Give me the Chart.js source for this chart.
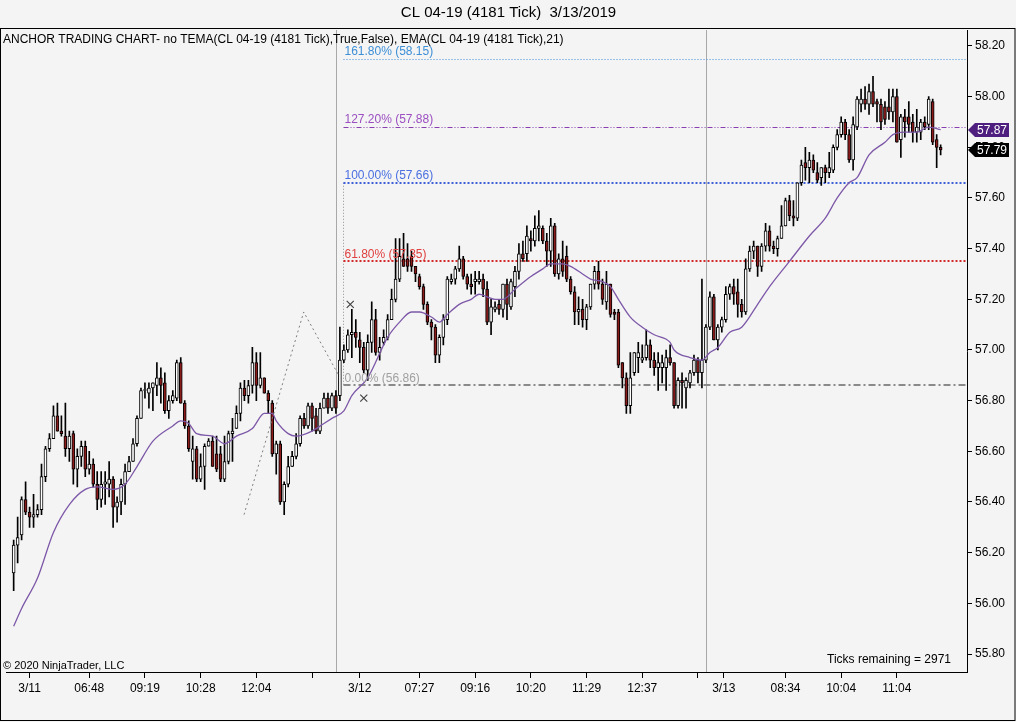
<!DOCTYPE html>
<html>
<head>
<meta charset="utf-8">
<script src="https://cdn.jsdelivr.net/npm/chart.js@4.4.1/dist/chart.umd.min.js"></script>
<style>
  html, body { margin: 0; padding: 0; background: #f4f4f4; }
  canvas { display: block; }
</style>
</head>
<body>
<canvas id="chart" width="1016" height="722"></canvas>
<script>
// candle data, one entry per 4181-tick bar (3/11 .. 3/13)
const opens = [
  56.12,56.23,56.27,56.41,56.36,56.34,56.35,56.37,56.50,56.61,56.65,56.74,56.68,56.66,56.61,56.67,56.53,56.58,56.62,56.53,
  56.55,56.47,56.41,56.47,56.47,56.49,56.38,56.40,56.47,56.52,56.56,56.63,56.73,56.84,56.83,56.85,56.86,56.89,56.87,56.76,
  56.80,56.81,56.95,56.79,56.70,56.56,56.61,56.49,56.54,56.62,56.64,56.59,56.59,56.49,56.56,56.67,56.69,56.75,56.85,56.82,
  56.86,56.95,56.86,56.89,56.83,56.79,56.59,56.63,56.40,56.47,56.54,56.58,56.63,56.73,56.70,56.78,56.74,56.68,56.77,56.81,
  56.77,56.82,56.82,56.96,57.00,57.06,57.07,57.04,57.01,56.92,57.03,57.12,56.99,57.03,57.05,57.12,57.20,57.28,57.36,57.36,
  57.37,57.33,57.29,57.25,57.18,57.11,57.09,56.98,57.05,57.12,57.27,57.28,57.32,57.36,57.29,57.26,57.27,57.27,57.28,57.24,
  57.11,57.16,57.18,57.16,57.26,57.17,57.25,57.31,57.38,57.38,57.44,57.43,57.48,57.48,57.43,57.39,57.49,57.30,57.36,57.37,
  57.28,57.23,57.15,57.16,57.12,57.17,57.26,57.31,57.26,57.19,57.26,57.15,57.15,56.95,56.89,56.78,56.91,56.97,56.96,56.97,
  57.02,56.96,56.93,56.93,56.93,56.97,56.95,56.78,56.88,56.85,56.87,56.91,56.96,56.91,56.96,57.09,57.21,57.04,57.09,57.12,
  57.22,57.25,57.23,57.18,57.15,57.32,57.39,57.41,57.33,57.41,57.47,57.41,57.40,57.44,57.49,57.59,57.53,57.52,57.66,57.74,
  57.72,57.75,57.70,57.68,57.72,57.70,57.71,57.80,57.85,57.90,57.85,57.75,57.88,57.97,57.99,57.97,58.02,57.98,57.97,57.96,
  57.96,57.94,58.00,57.83,57.92,57.92,57.90,57.86,57.86,57.90,57.89,57.98,57.83,57.80
];
const highs = [
  56.25,56.34,56.42,56.48,56.38,56.43,56.39,56.55,56.62,56.67,56.78,56.79,56.74,56.79,56.68,56.68,56.61,56.64,56.64,56.60,
  56.57,56.52,56.52,56.52,56.56,56.50,56.42,56.49,56.55,56.58,56.65,56.74,56.85,56.87,56.87,56.87,56.95,56.93,56.91,56.82,
  56.84,56.96,56.97,56.80,56.72,56.66,56.62,56.59,56.63,56.65,56.66,56.66,56.62,56.66,56.68,56.73,56.78,56.87,56.88,56.88,
  57.01,56.99,56.99,56.89,56.84,56.80,56.64,56.64,56.48,56.58,56.60,56.67,56.74,56.75,56.79,56.79,56.77,56.79,56.83,56.83,
  56.83,56.84,57.09,57.02,57.08,57.16,57.12,57.07,57.03,57.06,57.19,57.16,57.05,57.08,57.14,57.24,57.44,57.44,57.46,57.42,
  57.39,57.33,57.30,57.26,57.19,57.12,57.10,57.06,57.14,57.29,57.30,57.33,57.41,57.37,57.30,57.30,57.31,57.31,57.30,57.27,
  57.20,57.19,57.20,57.26,57.28,57.28,57.33,57.42,57.43,57.49,57.47,57.53,57.55,57.49,57.46,57.52,57.50,57.38,57.43,57.41,
  57.29,57.25,57.21,57.20,57.18,57.26,57.33,57.35,57.28,57.31,57.26,57.16,57.16,56.95,56.91,56.99,56.99,57.03,57.02,57.08,
  57.04,56.99,56.99,56.98,57.00,57.02,56.95,56.89,56.91,56.89,56.92,56.98,56.97,57.28,57.10,57.23,57.22,57.10,57.13,57.25,
  57.26,57.28,57.28,57.20,57.36,57.41,57.43,57.41,57.42,57.50,57.49,57.43,57.45,57.57,57.60,57.61,57.59,57.66,57.75,57.80,
  57.78,57.77,57.74,57.72,57.73,57.78,57.81,57.87,57.92,57.91,57.87,57.92,58.00,58.03,58.04,58.05,58.08,57.99,57.99,57.98,
  58.03,58.03,58.03,57.93,57.95,57.98,57.93,57.95,57.91,57.92,58.00,57.99,57.85,57.81
];
const lows = [
  56.05,56.16,56.25,56.35,56.30,56.30,56.34,56.35,56.48,56.60,56.65,56.68,56.66,56.58,56.56,56.47,56.46,56.54,56.50,56.51,
  56.46,56.37,56.38,56.39,56.42,56.30,56.32,56.35,56.39,56.52,56.56,56.62,56.73,56.81,56.77,56.76,56.82,56.79,56.75,56.73,
  56.79,56.80,56.79,56.69,56.60,56.49,56.48,56.48,56.45,56.62,56.54,56.52,56.48,56.48,56.55,56.56,56.69,56.72,56.80,56.79,
  56.83,56.80,56.85,56.83,56.75,56.58,56.51,56.39,56.35,56.46,56.54,56.57,56.62,56.69,56.69,56.68,56.67,56.67,56.77,56.75,
  56.76,56.75,56.80,56.95,56.99,56.97,57.01,56.95,56.91,56.88,56.99,56.98,56.96,57.02,57.04,57.12,57.19,57.27,57.33,57.31,
  57.31,57.27,57.24,57.16,57.10,57.04,56.95,56.95,57.02,57.10,57.26,57.26,57.31,57.28,57.24,57.22,57.22,57.26,57.21,57.10,
  57.06,57.15,57.14,57.13,57.12,57.16,57.21,57.28,57.35,57.35,57.39,57.41,57.43,57.42,57.33,57.33,57.29,57.28,57.29,57.27,
  57.22,57.10,57.10,57.09,57.08,57.16,57.24,57.24,57.18,57.16,57.13,57.12,56.93,56.85,56.75,56.75,56.90,56.91,56.95,56.96,
  56.93,56.90,56.84,56.87,56.84,56.94,56.77,56.77,56.77,56.77,56.85,56.90,56.87,56.85,56.95,57.08,57.04,57.00,57.07,57.11,
  57.20,57.18,57.13,57.13,57.14,57.31,57.36,57.29,57.31,57.39,57.39,57.38,57.37,57.44,57.49,57.51,57.49,57.51,57.65,57.67,
  57.66,57.70,57.66,57.65,57.66,57.68,57.70,57.79,57.84,57.83,57.74,57.71,57.87,57.94,57.95,57.93,57.96,57.90,57.87,57.89,
  57.91,57.90,57.82,57.76,57.84,57.86,57.82,57.82,57.83,57.87,57.87,57.81,57.72,57.77
];
const closes = [
  56.23,56.26,56.41,56.36,56.34,56.35,56.37,56.50,56.61,56.65,56.74,56.68,56.67,56.61,56.66,56.53,56.58,56.62,56.53,56.55,
  56.47,56.41,56.47,56.48,56.49,56.38,56.40,56.47,56.52,56.56,56.63,56.73,56.84,56.84,56.85,56.87,56.89,56.86,56.76,56.80,
  56.82,56.95,56.79,56.70,56.61,56.61,56.49,56.54,56.62,56.64,56.54,56.53,56.49,56.56,56.67,56.68,56.75,56.85,56.82,56.86,
  56.95,56.86,56.89,56.83,56.80,56.59,56.63,56.40,56.47,56.54,56.58,56.63,56.73,56.70,56.78,56.73,56.68,56.77,56.81,56.77,
  56.82,56.77,56.96,57.00,57.06,57.07,57.05,57.01,56.92,57.03,57.12,56.99,57.01,57.05,57.12,57.20,57.28,57.37,57.33,57.33,
  57.33,57.30,57.25,57.18,57.11,57.09,56.98,57.05,57.12,57.28,57.28,57.32,57.36,57.29,57.26,57.25,57.28,57.28,57.24,57.11,
  57.17,57.17,57.16,57.26,57.18,57.27,57.31,57.38,57.36,57.45,57.43,57.48,57.49,57.43,57.39,57.49,57.30,57.36,57.31,57.28,
  57.23,57.15,57.16,57.12,57.17,57.26,57.31,57.26,57.20,57.26,57.14,57.14,56.94,56.89,56.78,56.89,56.99,56.99,56.97,57.02,
  56.96,56.93,56.95,56.95,56.97,56.95,56.78,56.88,56.87,56.88,56.91,56.96,56.91,56.96,57.09,57.21,57.04,57.09,57.12,57.22,
  57.25,57.22,57.18,57.15,57.32,57.39,57.41,57.33,57.41,57.47,57.41,57.40,57.44,57.49,57.59,57.53,57.52,57.66,57.73,57.72,
  57.75,57.71,57.67,57.72,57.70,57.72,57.80,57.85,57.90,57.85,57.75,57.89,57.99,57.99,57.97,58.02,57.97,57.97,57.90,57.91,
  57.94,58.00,57.82,57.92,57.90,57.89,57.86,57.88,57.90,57.88,57.99,57.82,57.80,57.79
];

// EMA(21) at selected bars
const emaIdx = [0,2,6,10,14,18,21,25,28,31,35,40,42,44,46,50,53,56,60,63,65,66,69,71,75,78,80,83,85,89,94,97,100,102,105,107,109,112,
  115,117,119,121,123,126,130,133,135,138,140,143,145,148,150,152,155,158,161,165,166,170,173,175,177,180,183,187,190,195,200,204,
  207,210,212,215,219,221,224,227,230,233];
const emaVal = [55.91,55.98,56.10,56.28,56.39,56.45,56.46,56.45,56.47,56.54,56.64,56.70,56.72,56.71,56.67,56.66,56.63,56.66,56.69,56.75,
  56.75,56.72,56.67,56.66,56.68,56.71,56.73,56.76,56.82,56.89,57.05,57.11,57.15,57.15,57.13,57.11,57.14,57.18,57.20,57.22,57.21,57.20,
  57.20,57.24,57.29,57.32,57.34,57.34,57.33,57.30,57.28,57.27,57.25,57.20,57.13,57.09,57.06,57.03,57.00,56.97,56.96,56.99,57.01,57.07,
  57.09,57.18,57.25,57.35,57.45,57.52,57.60,57.66,57.68,57.77,57.82,57.85,57.86,57.86,57.88,57.87];

// session breaks (bar position) and x-axis ticks
const sessionBreaks = [81.1, 174.1];
const xTickIdx = [4, 19, 33, 47, 61, 75, 87, 102, 116, 130, 144, 158, 172, 178.5, 194, 208, 222];
const xTickLabels = ['3/11','06:48','09:19','10:28','12:04','','3/12','07:27','09:16','10:20','11:29','12:37','','3/13','08:34','10:04','11:04'];
const yTicks = [55.8, 56.0, 56.2, 56.4, 56.6, 56.8, 57.0, 57.2, 57.4, 57.6, 57.8, 58.0, 58.2];

// fibonacci levels drawn from the 3/12 anchor
const fibLevels = [58.15, 57.88, 57.66, 57.35, 56.86];
const fibLabels = ['161.80% (58.15)', '127.20% (57.88)', '100.00% (57.66)', '61.80% (57.35)', '0.00% (56.86)'];
const fibStart = 82.9;

// zigzag drawing and the two X marks
const zigIdx = [57.9, 72.9, 81.7];
const zigVal = [56.35, 57.15, 56.90];
const markIdx = [84.6, 88.0];
const markVal = [57.18, 56.81];

Chart.defaults.font.family = "'Liberation Sans', Arial, sans-serif";
Chart.defaults.color = '#000';

const fibStyle = [
  { color: '#3d8fd6', text: '#3d8fd6', width: 1, dash: [1, 2] },
  { color: '#8a3fb0', text: '#9b4fc0', width: 1, dash: [5, 2, 1, 2, 1, 2] },
  { color: '#3d5fd8', text: '#4a6fe0', width: 2, dash: [2, 2] },
  { color: '#d42a2a', text: '#e04040', width: 2, dash: [2, 2] },
  { color: '#8a8a8a', text: '#a0a0a0', width: 2, dash: [7, 3, 2, 3] }
];

const decor = {
  id: 'decor',
  beforeDraw(chart) {
    const ctx = chart.ctx;
    ctx.save();
    ctx.fillStyle = '#f4f4f4';
    ctx.fillRect(0, 0, chart.width, chart.height);
    ctx.restore();
  },
  beforeDatasetsDraw(chart) {
    const { ctx, chartArea: a, scales: { x, y } } = chart;
    ctx.save();
    // session separators
    ctx.strokeStyle = '#a8a8a8';
    ctx.lineWidth = 1;
    sessionBreaks.forEach(b => {
      const px = Math.round(x.getPixelForValue(b)) + 0.5;
      ctx.beginPath(); ctx.moveTo(px, a.top); ctx.lineTo(px, a.bottom); ctx.stroke();
    });
    // fib vertical anchor
    const fx = Math.round(x.getPixelForValue(fibStart)) + 0.5;
    ctx.strokeStyle = '#909090';
    ctx.setLineDash([1, 2]);
    ctx.beginPath();
    ctx.moveTo(fx, y.getPixelForValue(fibLevels[2]));
    ctx.lineTo(fx, y.getPixelForValue(fibLevels[4]));
    ctx.stroke();
    // fib levels
    fibLevels.forEach((lv, k) => {
      const s = fibStyle[k];
      const py = Math.round(y.getPixelForValue(lv)) + (s.width === 1 ? 0.5 : 0);
      ctx.strokeStyle = s.color;
      ctx.lineWidth = s.width;
      ctx.setLineDash(s.dash);
      ctx.beginPath(); ctx.moveTo(fx, py); ctx.lineTo(a.right, py); ctx.stroke();
    });
    ctx.restore();
  },
  afterDatasetsDraw(chart) {
    const { ctx, scales: { x, y } } = chart;
    ctx.save();
    ctx.font = "12px 'Liberation Sans', Arial, sans-serif";
    ctx.textBaseline = 'bottom';
    const fx = x.getPixelForValue(fibStart);
    fibLevels.forEach((lv, k) => {
      ctx.fillStyle = fibStyle[k].text;
      ctx.fillText(fibLabels[k], fx + 1, y.getPixelForValue(lv) - 1);
    });
    ctx.restore();
  },
  afterDraw(chart) {
    const { ctx, chartArea: a, scales: { y } } = chart;
    ctx.save();
    // panel frame
    ctx.strokeStyle = '#000';
    ctx.lineWidth = 1;
    ctx.strokeRect(0.5, 28.5, chart.width - 1.5, chart.height - 30);
    // texts in the panel
    ctx.fillStyle = '#000';
    ctx.textBaseline = 'middle';
    ctx.font = "12px 'Liberation Sans', Arial, sans-serif";
    ctx.fillText('ANCHOR TRADING CHART- no TEMA(CL 04-19 (4181 Tick),True,False), EMA(CL 04-19 (4181 Tick),21)', 3, 40);
    ctx.font = "11px 'Liberation Sans', Arial, sans-serif";
    ctx.fillText('\u00a9 2020 NinjaTrader, LLC', 3, 666);
    ctx.font = "12px 'Liberation Sans', Arial, sans-serif";
    ctx.textAlign = 'right';
    ctx.fillText('Ticks remaining = 2971', a.right - 16, 660);
    // price markers on the axis
    const markers = [
      { v: emaVal[emaVal.length - 1], bg: '#4e1f7e' },
      { v: closes[closes.length - 1], bg: '#000' }
    ];
    ctx.textAlign = 'left';
    ctx.font = "12px 'Liberation Sans', Arial, sans-serif";
    markers.forEach(m => {
      const py = Math.round(y.getPixelForValue(m.v));
      const x0 = a.right + 1;
      ctx.fillStyle = m.bg;
      ctx.beginPath();
      ctx.moveTo(x0, py);
      ctx.lineTo(x0 + 7, py - 7);
      ctx.lineTo(x0 + 41, py - 7);
      ctx.lineTo(x0 + 41, py + 7);
      ctx.lineTo(x0 + 7, py + 7);
      ctx.closePath();
      ctx.fill();
      ctx.fillStyle = '#fff';
      ctx.fillText(m.v.toFixed(2), x0 + 9, py + 1);
    });
    ctx.restore();
  }
};

const idx = opens.map((_, i) => i);

new Chart(document.getElementById('chart'), {
  type: 'bar',
  data: {
    datasets: [
      {
        type: 'line',
        data: markIdx.map((v, k) => ({ x: v, y: markVal[k] })),
        showLine: false,
        pointStyle: 'crossRot',
        pointRadius: 5,
        pointBorderColor: '#444',
        pointBorderWidth: 1.2,
        order: -3
      },
      {
        type: 'line',
        data: zigIdx.map((v, k) => ({ x: v, y: zigVal[k] })),
        borderColor: '#808080',
        borderWidth: 1,
        borderDash: [2, 3],
        pointRadius: 0,
        order: -2
      },
      {
        type: 'line',
        data: emaIdx.map((v, k) => ({ x: v, y: emaVal[k] })),
        borderColor: '#7d58a8',
        borderWidth: 1.3,
        pointRadius: 0,
        cubicInterpolationMode: 'monotone',
        order: -1
      },
      {
        data: idx.map(i => ({ x: i, y: [opens[i], closes[i]] })),
        backgroundColor: idx.map(i => closes[i] >= opens[i] ? '#ffffff' : '#8c1c1c'),
        borderColor: '#000',
        borderWidth: 1,
        borderSkipped: false,
        barThickness: 3,
        minBarLength: 1,
        grouped: false,
        order: 0
      },
      {
        data: idx.map(i => ({ x: i, y: [lows[i], highs[i]] })),
        backgroundColor: '#000',
        barThickness: 1,
        grouped: false,
        order: 1
      }
    ]
  },
  options: {
    responsive: false,
    animation: false,
    events: [],
    layout: { padding: { left: 1, right: 0, top: 0, bottom: 0 } },
    plugins: {
      legend: { display: false },
      tooltip: { enabled: false },
      title: {
        display: true,
        text: 'CL 04-19 (4181 Tick)  3/13/2019',
        font: { size: 15, weight: 'normal' },
        color: '#000',
        padding: { top: 4, bottom: 8 }
      }
    },
    scales: {
      x: {
        type: 'linear',
        min: -1.875,
        max: 239.625,
        offset: false,
        afterFit: s => { s.height = 50; s.paddingLeft = 0; s.paddingRight = 0; },
        afterBuildTicks: s => { s.ticks = xTickIdx.map(v => ({ value: v })); },
        grid: { drawOnChartArea: false, offset: false, tickLength: 6, color: '#000' },
        border: { display: true, color: '#000' },
        ticks: {
          autoSkip: false,
          maxRotation: 0,
          padding: 3,
          font: { size: 12 },
          callback: (v, i) => xTickLabels[i]
        }
      },
      y: {
        type: 'linear',
        position: 'right',
        min: 55.729,
        max: 58.263,
        afterFit: s => { s.width = 49; s.paddingTop = 0; s.paddingBottom = 0; },
        afterBuildTicks: s => { s.ticks = yTicks.map(v => ({ value: v })); },
        grid: { drawOnChartArea: false, tickLength: 5, color: '#000' },
        border: { display: true, color: '#000' },
        ticks: {
          padding: 3,
          font: { size: 12 },
          callback: v => v.toFixed(2)
        }
      }
    }
  },
  plugins: [decor]
});
</script>
</body>
</html>
